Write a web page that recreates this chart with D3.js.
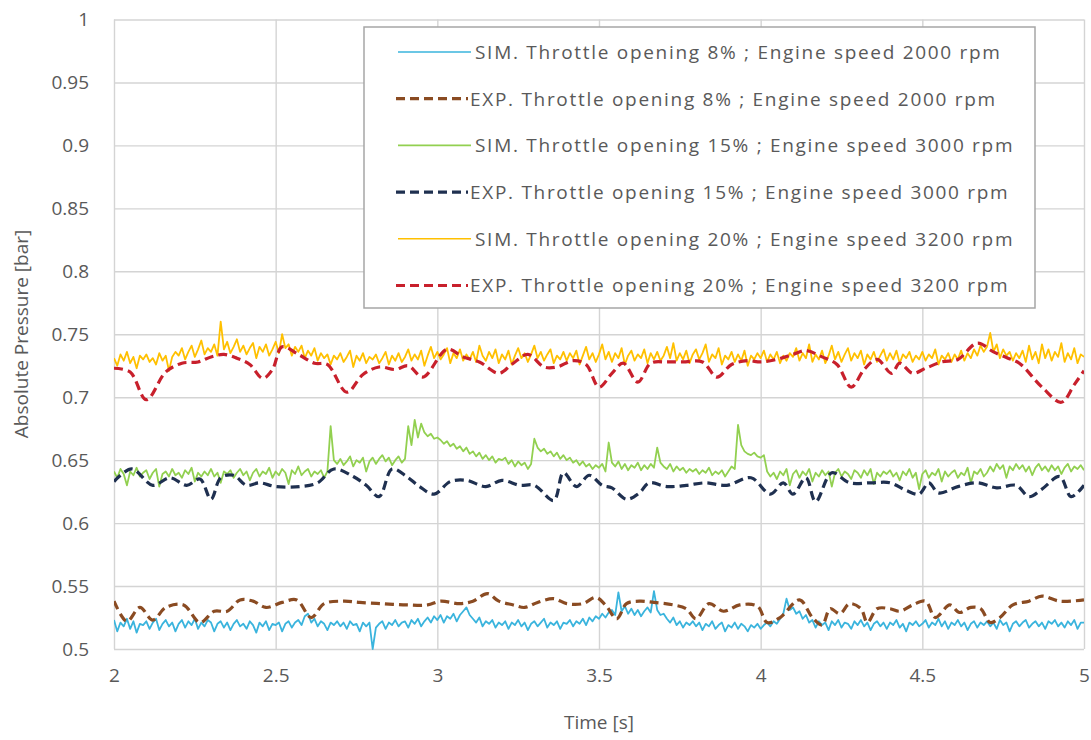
<!DOCTYPE html>
<html>
<head>
<meta charset="utf-8">
<script src="https://cdn.jsdelivr.net/npm/d3@7"></script>
<style>
  body { margin: 0; background: #fff; }
  text { font-family: "Open Sans", "Liberation Sans", sans-serif; fill: #595959; }
</style>
</head>
<body>
<svg id="chart" width="1091" height="740"></svg>
<script>
// Axis ticks
const xTicks = [2, 2.5, 3, 3.5, 4, 4.5, 5];
const yTicks = [0.5, 0.55, 0.6, 0.65, 0.7, 0.75, 0.8, 0.85, 0.9, 0.95, 1];

// Simulated series, one sample every 0.01 s from t = 2 s
const sim8 = [
  0.523,0.514,0.521,0.518,0.524,0.516,0.522,0.513,0.520,0.519,
  0.522,0.516,0.521,0.524,0.515,0.520,0.523,0.518,0.521,0.514,
  0.520,0.523,0.517,0.522,0.519,0.524,0.516,0.521,0.518,0.523,
  0.521,0.514,0.520,0.522,0.517,0.521,0.515,0.520,0.523,0.518,
  0.520,0.516,0.522,0.519,0.513,0.521,0.518,0.522,0.515,0.520,
  0.519,0.521,0.514,0.520,0.522,0.517,0.521,0.523,0.519,0.526,
  0.528,0.521,0.524,0.518,0.522,0.520,0.515,0.521,0.519,0.522,
  0.518,0.521,0.516,0.522,0.519,0.520,0.514,0.521,0.518,0.521,
  0.500,0.517,0.520,0.522,0.516,0.521,0.519,0.523,0.518,0.521,
  0.522,0.517,0.523,0.520,0.524,0.518,0.522,0.525,0.521,0.526,
  0.523,0.527,0.521,0.526,0.524,0.528,0.522,0.527,0.530,0.533,
  0.527,0.524,0.521,0.525,0.518,0.522,0.520,0.523,0.517,0.521,
  0.519,0.522,0.516,0.521,0.519,0.523,0.518,0.521,0.515,0.520,
  0.522,0.518,0.521,0.524,0.517,0.521,0.519,0.522,0.516,0.521,
  0.520,0.523,0.518,0.522,0.520,0.524,0.519,0.525,0.522,0.526,
  0.524,0.528,0.525,0.529,0.531,0.527,0.545,0.530,0.534,0.528,
  0.532,0.527,0.531,0.526,0.530,0.533,0.529,0.546,0.531,0.527,
  0.528,0.524,0.521,0.525,0.519,0.522,0.517,0.521,0.519,0.522,
  0.518,0.521,0.515,0.520,0.518,0.522,0.516,0.519,0.521,0.514,
  0.519,0.517,0.521,0.516,0.520,0.518,0.514,0.519,0.517,0.520,
  0.516,0.519,0.521,0.518,0.522,0.520,0.524,0.528,0.540,0.531,
  0.533,0.528,0.530,0.524,0.527,0.521,0.523,0.517,0.522,0.519,
  0.521,0.515,0.522,0.519,0.523,0.517,0.521,0.520,0.516,0.522,
  0.519,0.523,0.518,0.521,0.515,0.520,0.522,0.518,0.521,0.516,
  0.521,0.519,0.523,0.517,0.520,0.514,0.521,0.519,0.522,0.518,
  0.520,0.523,0.517,0.521,0.519,0.524,0.518,0.522,0.516,0.521,
  0.519,0.523,0.518,0.521,0.515,0.520,0.522,0.517,0.521,0.519,
  0.522,0.518,0.521,0.516,0.523,0.519,0.521,0.514,0.520,0.522,
  0.518,0.521,0.523,0.517,0.520,0.522,0.518,0.521,0.516,0.522,
  0.520,0.523,0.518,0.521,0.517,0.522,0.519,0.523,0.516,0.521,
  0.521
];

const sim15 = [
  0.641,0.636,0.643,0.639,0.630,0.641,0.638,0.644,0.637,0.640,
  0.642,0.635,0.640,0.643,0.629,0.639,0.641,0.637,0.643,0.638,
  0.640,0.636,0.642,0.639,0.644,0.633,0.640,0.637,0.641,0.638,
  0.643,0.637,0.640,0.632,0.641,0.639,0.642,0.636,0.640,0.643,
  0.638,0.641,0.634,0.640,0.643,0.637,0.641,0.639,0.644,0.636,
  0.641,0.638,0.643,0.640,0.631,0.642,0.639,0.645,0.638,0.641,
  0.643,0.637,0.641,0.639,0.642,0.636,0.641,0.677,0.650,0.647,
  0.651,0.646,0.649,0.653,0.645,0.650,0.648,0.652,0.641,0.649,
  0.652,0.647,0.651,0.654,0.649,0.652,0.646,0.650,0.653,0.648,
  0.651,0.677,0.662,0.682,0.668,0.679,0.672,0.669,0.671,0.667,
  0.668,0.666,0.663,0.665,0.661,0.663,0.659,0.661,0.657,0.660,
  0.655,0.657,0.653,0.656,0.651,0.654,0.650,0.653,0.648,0.651,
  0.650,0.652,0.647,0.650,0.645,0.649,0.646,0.648,0.643,0.647,
  0.667,0.660,0.657,0.659,0.655,0.657,0.653,0.656,0.651,0.654,
  0.650,0.652,0.648,0.650,0.646,0.649,0.645,0.647,0.643,0.646,
  0.644,0.647,0.641,0.664,0.648,0.645,0.649,0.643,0.647,0.642,
  0.646,0.644,0.648,0.642,0.646,0.643,0.647,0.644,0.660,0.648,
  0.645,0.643,0.647,0.641,0.645,0.642,0.644,0.640,0.643,0.641,
  0.643,0.639,0.642,0.640,0.644,0.638,0.641,0.639,0.642,0.637,
  0.641,0.645,0.643,0.678,0.662,0.657,0.655,0.654,0.656,0.653,
  0.652,0.654,0.641,0.637,0.640,0.635,0.641,0.638,0.643,0.630,
  0.639,0.642,0.636,0.641,0.638,0.643,0.633,0.640,0.637,0.642,
  0.638,0.641,0.629,0.640,0.643,0.637,0.641,0.639,0.635,0.642,
  0.640,0.636,0.642,0.638,0.643,0.631,0.640,0.637,0.641,0.639,
  0.642,0.637,0.640,0.634,0.641,0.638,0.643,0.636,0.640,0.627,
  0.639,0.642,0.636,0.640,0.638,0.643,0.633,0.641,0.637,0.640,
  0.642,0.636,0.640,0.638,0.644,0.632,0.641,0.639,0.643,0.637,
  0.640,0.645,0.641,0.647,0.643,0.646,0.636,0.645,0.642,0.647,
  0.643,0.646,0.641,0.645,0.638,0.644,0.647,0.642,0.645,0.641,
  0.646,0.642,0.645,0.639,0.644,0.647,0.641,0.645,0.643,0.646,
  0.642
];

const sim20 = [
  0.731,0.725,0.734,0.729,0.736,0.727,0.732,0.723,0.733,0.730,
  0.734,0.728,0.731,0.726,0.735,0.729,0.733,0.721,0.732,0.736,
  0.733,0.739,0.730,0.736,0.741,0.732,0.738,0.745,0.734,0.739,
  0.736,0.742,0.733,0.760,0.738,0.744,0.735,0.740,0.746,0.736,
  0.741,0.734,0.739,0.743,0.731,0.740,0.736,0.742,0.733,0.738,
  0.744,0.735,0.750,0.739,0.742,0.733,0.740,0.736,0.741,0.731,
  0.737,0.733,0.739,0.729,0.735,0.731,0.734,0.726,0.733,0.730,
  0.735,0.728,0.732,0.737,0.724,0.733,0.729,0.735,0.727,0.732,
  0.730,0.734,0.727,0.731,0.736,0.726,0.733,0.729,0.735,0.728,
  0.732,0.738,0.729,0.734,0.730,0.737,0.725,0.733,0.740,0.731,
  0.736,0.730,0.734,0.739,0.727,0.735,0.731,0.738,0.729,0.734,
  0.730,0.736,0.728,0.741,0.733,0.729,0.736,0.731,0.738,0.727,
  0.734,0.730,0.737,0.726,0.733,0.739,0.731,0.735,0.728,0.734,
  0.741,0.731,0.736,0.729,0.734,0.738,0.727,0.733,0.730,0.736,
  0.729,0.735,0.731,0.737,0.726,0.733,0.740,0.730,0.735,0.728,
  0.734,0.742,0.730,0.736,0.728,0.735,0.731,0.739,0.726,0.733,
  0.737,0.729,0.734,0.731,0.738,0.727,0.735,0.730,0.736,0.729,
  0.733,0.740,0.731,0.743,0.729,0.735,0.730,0.737,0.727,0.734,
  0.738,0.730,0.735,0.742,0.728,0.734,0.731,0.739,0.726,0.733,
  0.730,0.736,0.728,0.734,0.729,0.737,0.725,0.733,0.730,0.735,
  0.731,0.737,0.728,0.734,0.730,0.736,0.727,0.733,0.729,0.735,
  0.732,0.739,0.729,0.735,0.731,0.742,0.728,0.734,0.730,0.737,
  0.727,0.733,0.741,0.730,0.736,0.728,0.734,0.739,0.729,0.735,
  0.731,0.737,0.726,0.734,0.730,0.736,0.728,0.733,0.738,0.729,
  0.735,0.730,0.737,0.727,0.734,0.731,0.736,0.728,0.733,0.730,
  0.736,0.729,0.734,0.731,0.738,0.726,0.733,0.730,0.735,0.728,
  0.734,0.730,0.737,0.729,0.735,0.731,0.738,0.733,0.741,0.736,
  0.740,0.751,0.736,0.742,0.731,0.738,0.733,0.736,0.729,0.735,
  0.731,0.737,0.728,0.741,0.730,0.736,0.727,0.742,0.731,0.738,
  0.729,0.736,0.732,0.743,0.728,0.735,0.730,0.739,0.727,0.734,
  0.732
];

// Experimental series, [time s, pressure bar]
const exp8 = [
  [2.00,0.538],[2.04,0.522],[2.08,0.533],[2.12,0.523],[2.16,0.533],[2.215,0.535],
  [2.266,0.521],[2.31,0.530],[2.35,0.530],[2.39,0.539],[2.43,0.538],[2.47,0.533],
  [2.52,0.537],[2.565,0.539],[2.61,0.525],[2.65,0.536],[2.71,0.538],[2.76,0.537],
  [2.83,0.536],[2.905,0.535],[2.97,0.535],[3.01,0.538],[3.07,0.536],[3.11,0.538],
  [3.155,0.544],[3.19,0.538],[3.235,0.535],[3.27,0.533],[3.31,0.537],[3.36,0.540],
  [3.40,0.536],[3.45,0.536],[3.49,0.541],[3.52,0.535],[3.555,0.524],[3.585,0.536],
  [3.625,0.538],[3.67,0.537],[3.73,0.535],[3.77,0.532],[3.80,0.524],[3.84,0.536],
  [3.885,0.530],[3.935,0.535],[3.99,0.534],[4.02,0.521],[4.06,0.525],[4.12,0.539],
  [4.16,0.525],[4.19,0.519],[4.215,0.532],[4.245,0.528],[4.275,0.536],[4.31,0.532],
  [4.33,0.521],[4.36,0.532],[4.40,0.532],[4.43,0.530],[4.47,0.535],[4.51,0.538],
  [4.54,0.525],[4.585,0.535],[4.615,0.529],[4.65,0.533],[4.68,0.532],[4.71,0.521],
  [4.74,0.525],[4.78,0.535],[4.83,0.538],[4.87,0.542],[4.925,0.538],[5.00,0.539]
];

const exp15 = [
  [2.00,0.633],[2.055,0.643],[2.12,0.630],[2.173,0.636],[2.225,0.630],[2.266,0.635],
  [2.30,0.619],[2.33,0.636],[2.37,0.638],[2.41,0.630],[2.45,0.632],[2.50,0.629],
  [2.575,0.629],[2.63,0.632],[2.68,0.643],[2.74,0.637],[2.78,0.630],[2.82,0.621],
  [2.86,0.643],[2.905,0.637],[2.945,0.629],[2.99,0.623],[3.04,0.633],[3.09,0.634],
  [3.15,0.629],[3.20,0.634],[3.255,0.630],[3.30,0.630],[3.36,0.618],[3.39,0.640],
  [3.43,0.629],[3.47,0.638],[3.51,0.630],[3.54,0.628],[3.585,0.619],[3.625,0.624],
  [3.655,0.632],[3.71,0.629],[3.77,0.630],[3.83,0.632],[3.895,0.630],[3.97,0.636],
  [4.03,0.623],[4.07,0.632],[4.10,0.623],[4.14,0.636],[4.17,0.617],[4.22,0.640],
  [4.275,0.632],[4.34,0.632],[4.40,0.632],[4.45,0.626],[4.49,0.623],[4.52,0.632],
  [4.55,0.624],[4.61,0.629],[4.67,0.632],[4.73,0.628],[4.79,0.630],[4.83,0.621],
  [4.87,0.627],[4.925,0.637],[4.96,0.621],[5.00,0.630]
];

const exp20 = [
  [2.00,0.723],[2.05,0.720],[2.10,0.698],[2.16,0.720],[2.21,0.727],[2.26,0.728],
  [2.30,0.732],[2.34,0.734],[2.38,0.731],[2.42,0.726],[2.46,0.715],[2.49,0.722],
  [2.52,0.740],[2.57,0.734],[2.62,0.727],[2.66,0.726],[2.72,0.704],[2.77,0.718],
  [2.82,0.724],[2.87,0.722],[2.91,0.725],[2.955,0.716],[3.03,0.738],[3.08,0.732],
  [3.13,0.728],[3.19,0.719],[3.23,0.726],[3.28,0.734],[3.33,0.724],[3.37,0.724],
  [3.42,0.729],[3.46,0.726],[3.50,0.708],[3.54,0.719],[3.575,0.727],[3.62,0.712],
  [3.66,0.727],[3.71,0.728],[3.76,0.728],[3.82,0.728],[3.865,0.716],[3.91,0.726],
  [3.96,0.729],[4.00,0.728],[4.05,0.730],[4.10,0.734],[4.14,0.737],[4.19,0.732],
  [4.236,0.726],[4.28,0.708],[4.32,0.722],[4.36,0.730],[4.405,0.719],[4.43,0.727],
  [4.47,0.719],[4.51,0.723],[4.56,0.728],[4.61,0.730],[4.67,0.743],[4.72,0.736],
  [4.765,0.731],[4.80,0.727],[4.87,0.708],[4.93,0.696],[4.97,0.710],[5.00,0.721]
];

const legendLabels = [
  "SIM. Throttle opening 8% ; Engine speed 2000 rpm",
  "EXP. Throttle opening 8% ; Engine speed 2000 rpm",
  "SIM. Throttle opening 15% ; Engine speed 3000 rpm",
  "EXP. Throttle opening 15% ; Engine speed 3000 rpm",
  "SIM. Throttle opening 20% ; Engine speed 3200 rpm",
  "EXP. Throttle opening 20% ; Engine speed 3200 rpm"
];

const series = [
  { label: legendLabels[0], sim: true,  values: sim8,  color: "#3ab4dd" },
  { label: legendLabels[1], sim: false, values: exp8,  color: "#8a4b22" },
  { label: legendLabels[2], sim: true,  values: sim15, color: "#92d050" },
  { label: legendLabels[3], sim: false, values: exp15, color: "#1f3050" },
  { label: legendLabels[4], sim: true,  values: sim20, color: "#ffc000" },
  { label: legendLabels[5], sim: false, values: exp20, color: "#c8202c" }
];

const svg = d3.select("#chart");

const x = d3.scaleLinear().domain([2, 5]).range([114, 1084]);
const y = d3.scaleLinear().domain([0.5, 1]).range([649, 19.5]);

// Gridlines + tick labels
const yAxis = d3.axisLeft(y)
    .tickValues(yTicks)
    .tickSize(-(x.range()[1] - x.range()[0]))
    .tickPadding(25)
    .tickFormat(d => String(+d.toFixed(2)));
const gy = svg.append("g")
    .attr("transform", `translate(${x.range()[0]},0)`)
    .call(yAxis);

const xAxis = d3.axisBottom(x)
    .tickValues(xTicks)
    .tickSize(-(y.range()[0] - y.range()[1]))
    .tickPadding(20)
    .tickFormat(d => String(d));
const gx = svg.append("g")
    .attr("transform", `translate(0,${y.range()[0]})`)
    .call(xAxis);

[gx, gy].forEach(g => {
    g.select(".domain").remove();
    g.selectAll(".tick line").attr("stroke", "#d4d4d4").attr("stroke-width", 1.4);
    g.selectAll(".tick text")
        .attr("font-size", "19px")
        .attr("font-family", "\"Open Sans\", sans-serif")
        .attr("fill", "#595959");
});

// Axis titles
svg.append("text")
    .attr("x", (x.range()[0] + x.range()[1]) / 2)
    .attr("y", 729)
    .attr("text-anchor", "middle")
    .attr("font-size", "19px")
    .text("Time [s]");

svg.append("text")
    .attr("transform", "rotate(-90)")
    .attr("x", -334)
    .attr("y", 28)
    .attr("text-anchor", "middle")
    .attr("font-size", "19px")
    .text("Absolute Pressure [bar]");

// Lines
const simLine = d3.line()
    .x((d, i) => x(2 + i * 0.01))
    .y(d => y(d));

const expLine = d3.line()
    .curve(d3.curveCatmullRom)
    .x(d => x(d[0]))
    .y(d => y(d[1]));

svg.append("defs").append("clipPath").attr("id", "plot-clip")
    .append("rect")
    .attr("x", x.range()[0]).attr("y", y.range()[1])
    .attr("width", x.range()[1] - x.range()[0])
    .attr("height", y.range()[0] - y.range()[1] + 2);

const plot = svg.append("g").attr("clip-path", "url(#plot-clip)");

series.forEach(s => {
    plot.append("path")
        .attr("fill", "none")
        .attr("stroke", s.color)
        .attr("stroke-width", s.sim ? 1.8 : 3.2)
        .attr("stroke-dasharray", s.sim ? null : "9,5")
        .attr("stroke-linejoin", "round")
        .attr("d", s.sim ? simLine(s.values) : expLine(s.values));
});

// Legend
const legend = svg.append("g");
legend.append("rect")
    .attr("x", 364).attr("y", 27)
    .attr("width", 671).attr("height", 281)
    .attr("fill", "#fff")
    .attr("stroke", "#a6a6a6")
    .attr("stroke-width", 1.5);

series.forEach((s, i) => {
    const cy = 52 + i * 46.7;
    legend.append("line")
        .attr("x1", s.sim ? 398 : 396).attr("x2", s.sim ? 471 : 468)
        .attr("y1", cy).attr("y2", cy)
        .attr("stroke", s.color)
        .attr("stroke-width", s.sim ? 1.6 : 3.2)
        .attr("stroke-dasharray", s.sim ? null : "9,5");
    legend.append("text")
        .attr("x", s.sim ? 475 : 470)
        .attr("y", cy)
        .attr("dy", "0.36em")
        .attr("font-size", "19px")
        .attr("letter-spacing", "1.7px")
        .attr("fill", "#404040")
        .text(s.label);
});
</script>
</body>
</html>
